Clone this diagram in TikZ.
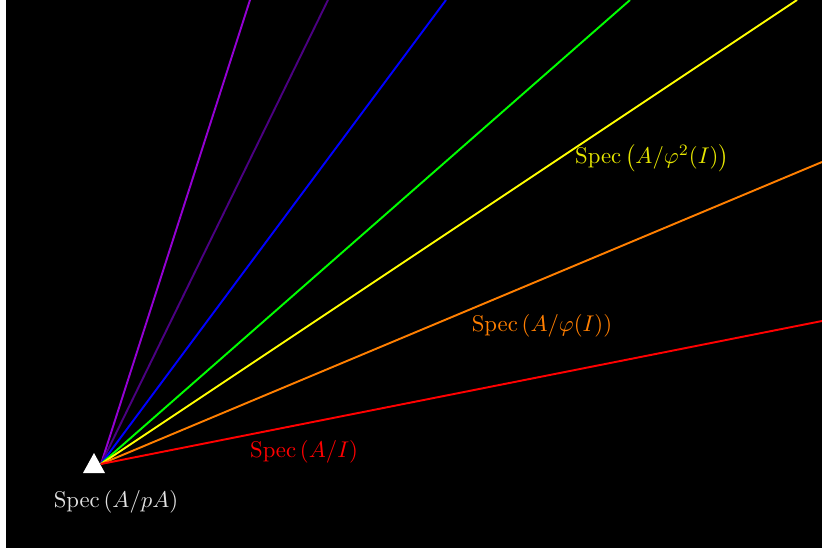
\documentclass[tikz,border=0pt]{standalone}
\usepackage{amsmath}
\definecolor{cviolet}{RGB}{148,0,211}
\definecolor{cindigo}{RGB}{75,0,130}
\definecolor{cblue}{RGB}{0,0,255}
\definecolor{cgreen}{RGB}{0,255,0}
\definecolor{cyellow}{RGB}{255,255,0}
\definecolor{corange}{RGB}{255,127,0}
\definecolor{cred}{RGB}{255,0,0}
\definecolor{tyellow}{RGB}{230,230,0}
\definecolor{tlabel}{RGB}{225,225,225}
\begin{document}
\begin{tikzpicture}[x=0.44pt,y=-0.44pt,
  ray/.style={line width=0.85pt},
  lab/.style={inner sep=0pt}]
\useasboundingbox (0,0) rectangle (822,548);
\fill[white] (0,0) rectangle (822,548);
\fill[black] (6,0) rectangle (822,548);
\begin{scope}
\clip (6,0) rectangle (822,548);
\fill[white] (94,453) -- (83,473) -- (105,473) -- cycle;
\coordinate (O) at (101,464);
\coordinate (Ered) at (822,321);
\coordinate (Eorange) at (822,162);
\coordinate (Eyellow) at (797,0);
\coordinate (Egreen) at (630,0);
\coordinate (Eblue) at (446,0);
\coordinate (Eindigo) at (328,0);
\coordinate (Eviolet) at (250,0);
\draw[ray,cviolet] (O) -- (Eviolet);
\draw[ray,cindigo] (O) -- (Eindigo);
\draw[ray,cblue] (O) -- (Eblue);
\draw[ray,cgreen] (O) -- (Egreen);
\draw[ray,cyellow] (O) -- (Eyellow);
\draw[ray,corange] (O) -- (Eorange);
\draw[ray,cred] (O) -- (Ered);
\end{scope}
\node[lab,text=tlabel] (lp) at (116,502) {$\operatorname{Spec}\left(A/pA\right)$};
\node[lab,text=cred] (li) at (304,452) {$\operatorname{Spec}\left(A/I\right)$};
\node[lab,text=corange] (lphi) at (542,326) {$\operatorname{Spec}\left(A/\varphi(I)\right)$};
\node[lab,text=tyellow] (lphi2) at (652,158) {$\operatorname{Spec}\left(A/\varphi^2(I)\right)$};
\end{tikzpicture}
\end{document}
